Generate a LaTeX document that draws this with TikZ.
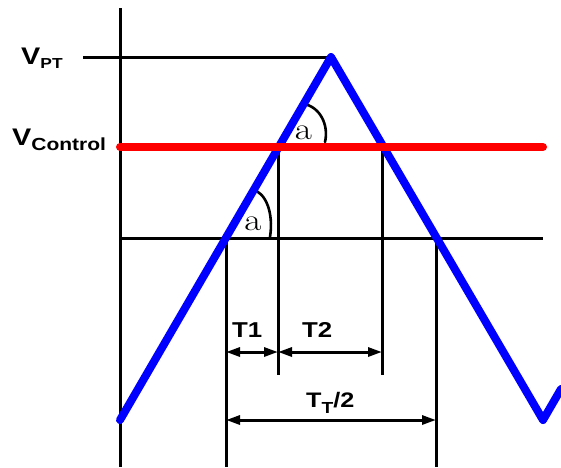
\documentclass[tikz,border=0pt]{standalone}
\usepackage{fontspec}
\newfontfamily\sansb{Liberation Sans}
\usetikzlibrary{arrows.meta}
\newcommand{\wideb}[1]{\scalebox{1.2}[1]{#1}}
\begin{document}
\begin{tikzpicture}[x=1pt,y=-1pt,
  thinline/.style={black,line width=3pt},
  wave/.style={blue,line width=8pt,line cap=round,line join=round},
  ctrl/.style={red,line width=8pt,line cap=round},
  dim/.style={black,line width=3pt,{Triangle[length=14pt,width=9pt]}-{Triangle[length=14pt,width=9pt]}},
  lab/.style={font=\sansb\bfseries\fontsize{21.5}{23}\selectfont,inner sep=0pt,anchor=base west},
  vlab/.style={font=\sansb\bfseries\fontsize{24}{26}\selectfont,inner sep=0pt,anchor=base west},
  alab/.style={font=\rmfamily\fontsize{31}{33}\selectfont,inner sep=0pt},
  arcline/.style={black,line width=2.6pt,line cap=round}]
\useasboundingbox (0,0) rectangle (561,467);
\clip (0,0) rectangle (561,467);
% coordinates
\coordinate (axtop) at (120,8);
\coordinate (axbot) at (120,467);
\coordinate (vptl) at (83,57);
\coordinate (peak) at (331,57);
\coordinate (start) at (120,420);
\coordinate (low) at (543,420);
\coordinate (endw) at (561,389);
\coordinate (rl) at (120,147);
\coordinate (rr) at (543,147);
\coordinate (bl) at (120,238);
\coordinate (br) at (543,238);
\coordinate (x1) at (226,238);
\coordinate (x1b) at (226,467);
\coordinate (x4) at (436,238);
\coordinate (x4b) at (436,467);
\coordinate (x2) at (278,147);
\coordinate (x2b) at (278,375);
\coordinate (x3) at (382,147);
\coordinate (x3b) at (382,375);
\coordinate (t1l) at (226,352);
\coordinate (t1r) at (278,352);
\coordinate (t2r) at (382,352);
\coordinate (ttl) at (226,420);
\coordinate (ttr) at (436,420);
% axes and reference lines
\draw[thinline] (axtop) -- (axbot);
\draw[thinline] (vptl) -- (peak);
\draw[thinline] (bl) -- (br);
\draw[thinline] (x1) -- (x1b);
\draw[thinline] (x4) -- (x4b);
\draw[thinline] (x2) -- (x2b);
\draw[thinline] (x3) -- (x3b);
% dimension arrows
\draw[dim] (t1l) -- (t1r);
\draw[dim] (t1r) -- (t2r);
\draw[dim] (ttl) -- (ttr);
% angle arcs
\coordinate (a1s) at (304,104);
\coordinate (a1e) at (325,142);
\coordinate (a2s) at (253,190);
\coordinate (a2e) at (270,237);
\draw[arcline] (a1s) .. controls (320,107) and (329,125) .. (a1e);
\draw[arcline] (a2s) .. controls (265,192) and (274,212) .. (a2e);
\fill (a1s) circle (1.9pt);
\fill (a2s) circle (1.9pt);
% waveform
\draw[wave] (start) -- (peak) -- (low) -- (endw);
\draw[ctrl] (rl) -- (rr);
% labels
\node[vlab] (vpt) at (21,64) {\wideb{V\raisebox{-4.5pt}{\fontsize{14.5}{16}\selectfont PT}}};
\node[vlab] (vctl) at (12,145) {\wideb{V\raisebox{-5pt}{\fontsize{17.5}{19}\selectfont Control}}};
\node[alab] (a1) at (303.5,133) {\wideb{a}};
\node[alab] (a2) at (253,224) {\wideb{a}};
\node[lab] (t1) at (232,337) {\wideb{T1}};
\node[lab] (t2) at (302,337) {\wideb{T2}};
\node[lab,font=\sansb\bfseries\fontsize{21}{23}\selectfont] (tt) at (306,407) {\wideb{T\raisebox{-6pt}{\fontsize{16}{18}\selectfont T}/2}};
\end{tikzpicture}
\end{document}
